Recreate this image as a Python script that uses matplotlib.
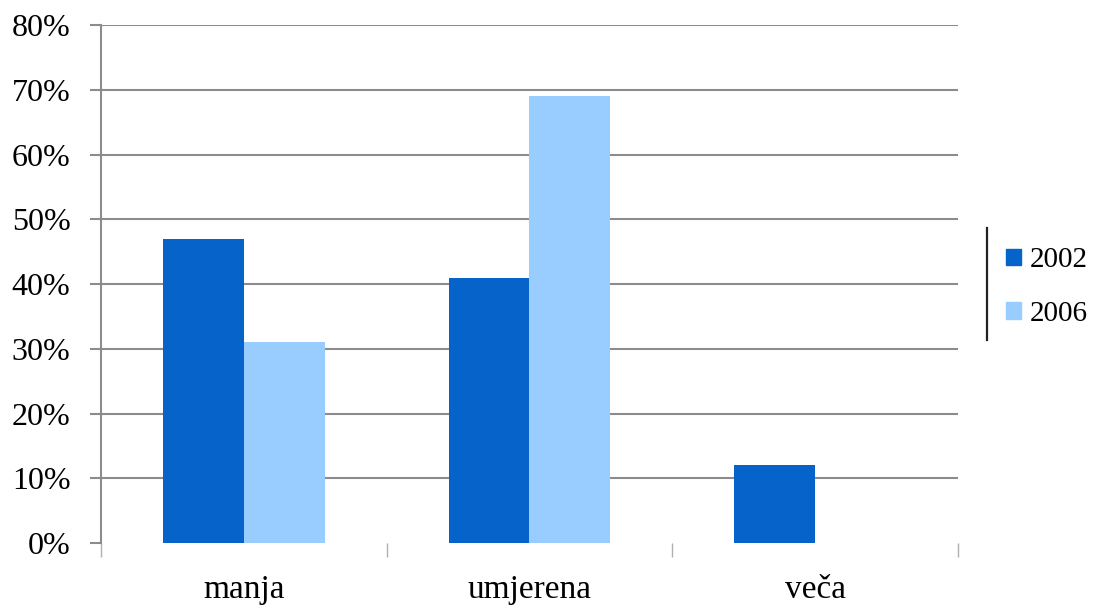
import matplotlib.pyplot as plt
import numpy as np
from matplotlib.lines import Line2D
from matplotlib.patches import Patch
from matplotlib.ticker import FixedLocator, PercentFormatter

plt.rcParams['font.family'] = ['Liberation Serif', 'DejaVu Serif']

# udjeli po kategoriji
kategorije = ['manja', 'umjerena', 'veča']
godine = ['2002', '2006']
udio_2002 = [0.47, 0.41, 0.12]
udio_2006 = [0.31, 0.69, 0.0]

boje = ['#0563c9', '#99ccff']
siva = '#8c8c8c'

fig = plt.figure(figsize=(10.95, 6.1), dpi=100)
ax = fig.add_axes([0.0922, 0.1098, 0.7827, 0.8492])

x = np.arange(len(kategorije))
w = 0.283
ax.bar(x - w / 2, udio_2002, w, color=boje[0], zorder=3)
ax.bar(x + w / 2, udio_2006, w, color=boje[1], zorder=3)

ax.set_xlim(-0.5, len(kategorije) - 0.5)
ax.set_ylim(0, 0.8)
ax.set_yticks(np.arange(0, 0.81, 0.1))
ax.yaxis.set_major_formatter(PercentFormatter(1.0, decimals=0))
ax.grid(axis='y', color=siva, linewidth=1.5, zorder=0)
ax.get_ygridlines()[0].set_visible(False)

# kategorije kao manje oznake, granice kao glavne crtice
ax.xaxis.set_major_locator(FixedLocator(np.arange(-0.5, len(kategorije), 1.0)))
ax.xaxis.set_minor_locator(FixedLocator(x))
ax.set_xticklabels([])
ax.set_xticklabels(kategorije, minor=True)
ax.tick_params(axis='x', which='major', length=10, width=1.0, color='#b0b0b0', direction='out')
ax.tick_params(axis='x', which='minor', length=0, pad=23, labelsize=24)
ax.tick_params(axis='y', length=8, width=1.5, color=siva, pad=14, labelsize=23)

for s in ['top', 'right', 'bottom']:
    ax.spines[s].set_visible(False)
ax.spines['left'].set_color(siva)
ax.spines['left'].set_linewidth(1.5)

handles = [Patch(color=boje[0]), Patch(color=boje[1])]
fig.legend(handles, godine, loc='center left', bbox_to_anchor=(0.895, 0.529),
           frameon=False, fontsize=21, handlelength=0.5, handleheight=0.5,
           handletextpad=0.3, labelspacing=0.95)
fig.add_artist(Line2D([0.901, 0.901], [0.443, 0.626], color='#222222', linewidth=1.6))

fig.savefig('out.png', dpi=100)
